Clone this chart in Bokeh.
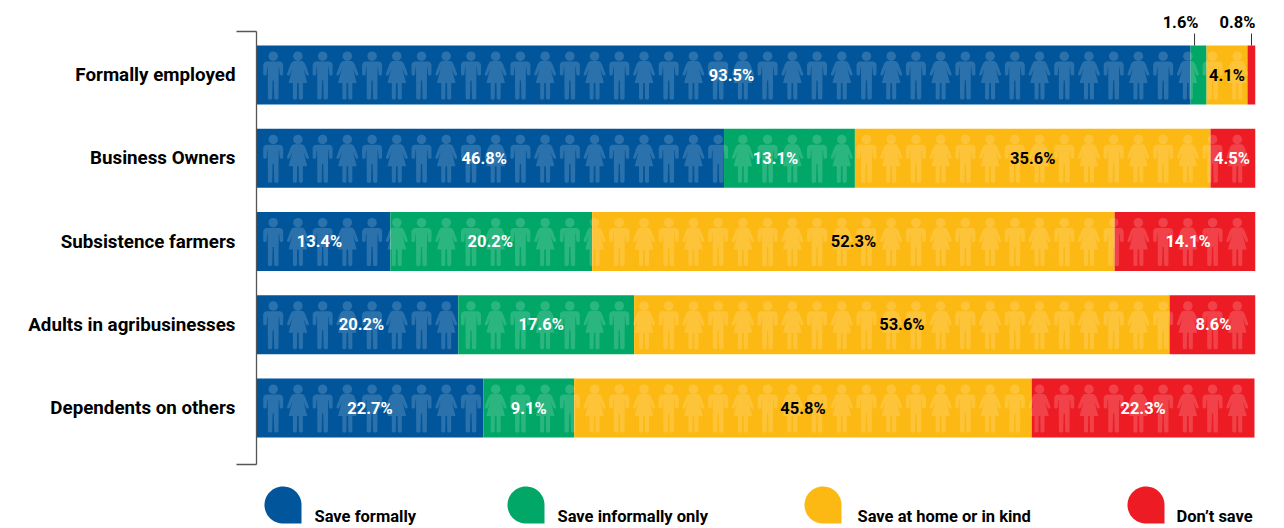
import numpy as np
from bokeh.core.properties import value
from bokeh.embed import file_html
from bokeh.layouts import column
from bokeh.models import ColumnDataSource, FixedTicker, Range1d
from bokeh.plotting import figure
from bokeh.resources import INLINE

categories = ["Formally employed", "Business Owners", "Subsistence farmers",
              "Adults in agribusinesses", "Dependents on others"]
series_names = ["Save formally", "Save informally only", "Save at home or in kind", "Don\u2019t save"]
save_formally = [93.5, 46.8, 13.4, 20.2, 22.7]
save_informally = [1.6, 13.1, 20.2, 17.6, 9.1]
save_home = [4.1, 35.6, 52.3, 53.6, 45.8]
dont_save = [0.8, 4.5, 14.1, 8.6, 22.3]

colors = ["#00559b", "#00a766", "#fdb913", "#ed1c24"]
text_colors = ["white", "white", "black", "white"]
FONT_NAME = "Roboto"
FONT = value(FONT_NAME)

# layout, px
W, LEFT, PLOT_W = 1284, 256, 999
MAIN_H, BOT_H = 466, 62
PITCH = 83.25
BRACKET_TOP = 31
BRACKET_BOT = 464
px_x = 100 / PLOT_W
px_y = 1 / PITCH
y_hi = (BRACKET_BOT - 74.5) * px_y
y_lo = -(74.5 - BRACKET_TOP) * px_y
y_canvas_top = -74.5 * px_y

main = figure(width=W, height=MAIN_H, output_backend="svg", toolbar_location=None,
              x_range=Range1d(0, 100), y_range=Range1d(y_hi, y_canvas_top),
              min_border_left=LEFT, min_border_right=W - LEFT - PLOT_W,
              min_border_top=0, min_border_bottom=MAIN_H - BRACKET_BOT, outline_line_color=None)
main.grid.visible = False
main.xaxis.visible = False

ax = main.yaxis[0]
ax.bounds = (y_lo, y_hi)
ax.ticker = FixedTicker(ticks=list(range(5)), minor_ticks=[y_lo, y_hi])
ax.major_label_overrides = {i: c for i, c in enumerate(categories)}
ax.major_tick_line_color = None
ax.major_tick_in = 0
ax.major_tick_out = 0
ax.minor_tick_in = 0
ax.minor_tick_out = 20
ax.minor_tick_line_color = "#555555"
ax.minor_tick_line_width = 1.3
ax.axis_line_color = "#555555"
ax.axis_line_width = 1.3
ax.major_label_standoff = 1
ax.major_label_text_font = FONT_NAME
ax.major_label_text_font_style = "bold"
ax.major_label_text_font_size = "18.75px"
ax.major_label_text_color = "black"

rows = np.arange(5)
series = [save_formally, save_informally, save_home, dont_save]
BAR_H = 59 * px_y
left = np.zeros(5)
label_nudge = [[8, -6, -4, 4, 0], [0, -14, -1, -5, 0], [0, 0, 0, 0, 0], [0, -1, 3, 1, 0]]
for s, vals in enumerate(series):
    vals = np.array(vals)
    main.hbar(y=rows, left=left, right=left + vals, height=BAR_H, color=colors[s], line_color=None)
    left = left + vals

# pictograms
man = [(-7, 16), (7, 16), (9, 17), (10, 19), (10, 29), (9, 30), (7.5, 30), (6.5, 29), (6, 21.5), (5.5, 21.5),
       (5.3, 53), (4.3, 54), (2, 54), (1, 53), (0.6, 35), (-0.6, 35), (-1, 53), (-2, 54), (-4.3, 54),
       (-5.3, 53), (-5.5, 21.5), (-6, 21.5), (-6.5, 29), (-7.5, 30), (-9, 30), (-10, 29), (-10, 19), (-9, 17)]
woman = [(-4, 15.5), (4, 15.5), (6, 16.5), (7.5, 19), (11, 28.5), (10.5, 30), (9, 30), (8, 29), (5.5, 23),
         (9.3, 37.5), (5, 37.5), (5, 53), (4, 54), (2, 54), (1, 53), (0.8, 37.5), (-0.8, 37.5), (-1, 53),
         (-2, 54), (-4, 54), (-5, 53), (-5, 37.5), (-9.3, 37.5), (-5.5, 23), (-8, 29), (-9, 30), (-10.5, 30),
         (-11, 28.5), (-7.5, 19), (-6, 16.5)]
xs, ys, hx, hy = [], [], [], []
for r in rows:
    for i in range(40):
        shape = man if i % 2 == 0 else woman
        cx = 16.7 + i * 24.72
        xs.append([(cx + a) * px_x for a, _ in shape])
        ys.append([r + (b - 29.5) * px_y for _, b in shape])
        hx.append(cx * px_x)
        hy.append(r + (10.7 - 29.5) * px_y)
main.patches(xs, ys, fill_color="white", fill_alpha=0.17, line_color=None)
main.scatter(hx, hy, size=9.5, marker="circle", fill_color="white", fill_alpha=0.17, line_color=None)

# value labels
left = np.zeros(5)
for s, vals in enumerate(series):
    vals = np.array(vals)
    mid = left + vals / 2
    keep = vals >= 3
    src = ColumnDataSource(dict(x=mid[keep], y=rows[keep], t=[f"{v:.1f}%" for v in vals[keep]],
                                o=np.array(label_nudge[s])[keep]))
    main.text("x", "y", text="t", source=src, x_offset="o", text_color=text_colors[s], text_align="center",
              text_baseline="middle", text_font=FONT, text_font_style="bold", text_font_size="16.5px")
    left = left + vals

# call-outs for the narrow segments
call_x = [93.9, save_formally[0] + save_informally[0] + save_home[0] + dont_save[0] / 2]
call_t = [f"{save_informally[0]:.1f}%", f"{dont_save[0]:.1f}%"]
main.segment(x0=call_x, x1=call_x, y0=[(33 - 74.5) * px_y] * 2, y1=[-BAR_H / 2] * 2,
             line_color="#333333", line_width=1)
main.text([94.3, 100], [(21.5 - 74.5) * px_y] * 2, text=call_t, text_align="right", text_baseline="middle",
          text_font=FONT, text_font_style="bold", text_font_size="16.5px", text_color="black")

# legend
bot = figure(width=W, height=BOT_H, output_backend="svg", toolbar_location=None,
             x_range=Range1d(LEFT, LEFT + PLOT_W), y_range=Range1d(MAIN_H + BOT_H, MAIN_H),
             min_border_left=LEFT, min_border_right=W - LEFT - PLOT_W,
             min_border_top=0, min_border_bottom=0, outline_line_color=None)
bot.axis.visible = False
bot.grid.visible = False
legend_x = [264, 507, 804, 1127]
legend_tx = [314, 557, 857, 1176]
SW = 37
y_top = 486
t = np.radians(np.linspace(0, 270, 60))
for x0, tx, c, name in zip(legend_x, legend_tx, colors, series_names):
    cx, cy, rad = x0 + SW / 2, y_top + SW / 2, SW / 2
    px = list(cx + rad * np.cos(-t))
    py = list(cy + rad * np.sin(-t))
    bot.patch(px + [cx + rad], py + [cy + rad], color=c, line_color=None)
    bot.text([tx], [y_top + 29.5], text=[name], text_baseline="middle", text_font=FONT, text_font_style="bold",
             text_font_size="16.5px", text_color="black")

layout = column(main, bot, spacing=0)
open("out.html", "w").write(file_html(layout, INLINE))
